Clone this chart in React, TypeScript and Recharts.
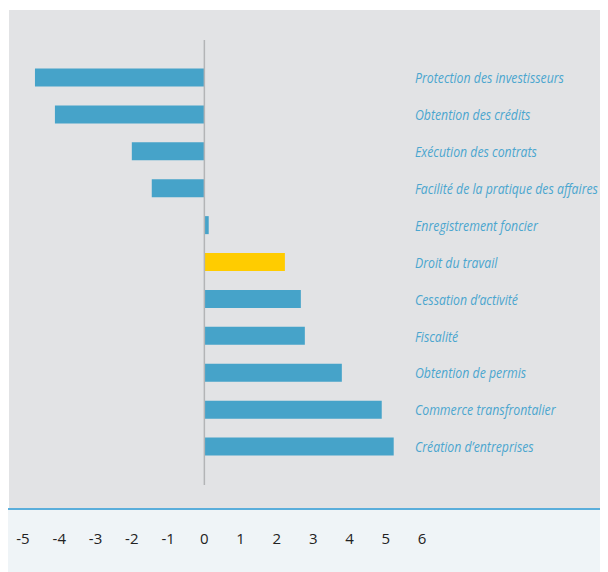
import React from 'react';
import { BarChart, Bar, Cell, XAxis, YAxis, ReferenceLine } from 'recharts';

const categories = [
  'Protection des investisseurs',
  'Obtention des crédits',
  'Exécution des contrats',
  'Facilité de la pratique des affaires',
  'Enregistrement foncier',
  'Droit du travail',
  "Cessation d’activité",
  'Fiscalité',
  'Obtention de permis',
  'Commerce transfrontalier',
  "Création d’entreprises",
];

const values = [-4.67, -4.12, -2.0, -1.45, 0.12, 2.22, 2.66, 2.77, 3.79, 4.89, 5.22];

const xTicks = [-5, -4, -3, -2, -1, 0, 1, 2, 3, 4, 5, 6];

const highlighted = 'Droit du travail';

const BLUE = '#46a3c9';
const YELLOW = '#ffcc00';

const chartData = categories.map((name, i) => ({ name, value: values[i] }));

// category labels sit to the right, left-aligned, in a narrow italic face
function CategoryTick(props: any) {
  const { x, y, payload } = props;
  return (
    <g transform={`translate(${x - 7},${y}) scale(0.82,1)`}>
      <text
        x={0}
        y={0}
        dy="0.35em"
        textAnchor="start"
        fill="#4ba6cf"
        fontFamily="'Open Sans', sans-serif"
        fontStyle="italic"
        fontSize={15}
      >
        {payload.value}
      </text>
    </g>
  );
}

export default function App() {
  return (
    <div style={{ position: 'relative', width: 600, height: 564 }}>
      <div style={{ position: 'absolute', left: 1, top: 2, width: 599, height: 498, background: '#e2e3e5' }} />
      <div style={{ position: 'absolute', left: 0, top: 500, width: 600, height: 2, background: '#5aaedb' }} />
      <div style={{ position: 'absolute', left: 0, top: 502, width: 600, height: 62, background: '#eff4f7' }} />
      <div style={{ position: 'absolute', left: 0, top: 0 }}>
        <BarChart
          layout="vertical"
          width={600}
          height={564}
          data={chartData}
          margin={{ top: 32, right: 0, bottom: 0, left: 15 }}
        >
          <XAxis
            type="number"
            domain={[-5, 6]}
            ticks={xTicks}
            interval={0}
            axisLine={false}
            tickLine={false}
            tickSize={0}
            tickMargin={48}
            height={87}
            tick={{ fill: '#222', fontSize: 15, fontFamily: "'Open Sans', sans-serif" }}
          />
          <YAxis
            type="category"
            dataKey="name"
            orientation="right"
            width={186}
            axisLine={false}
            tickLine={false}
            tickSize={0}
            tickMargin={0}
            interval={0}
            padding={{ top: 19.5, bottom: 19.5 }}
            tick={<CategoryTick />}
          />
          <ReferenceLine x={0} stroke="#b3b4b6" strokeWidth={1.5} />
          <Bar dataKey="value" barSize={18} isAnimationActive={false}>
            {chartData.map((d) => (
              <Cell key={d.name} fill={d.name === highlighted ? YELLOW : BLUE} />
            ))}
          </Bar>
        </BarChart>
      </div>
    </div>
  );
}
